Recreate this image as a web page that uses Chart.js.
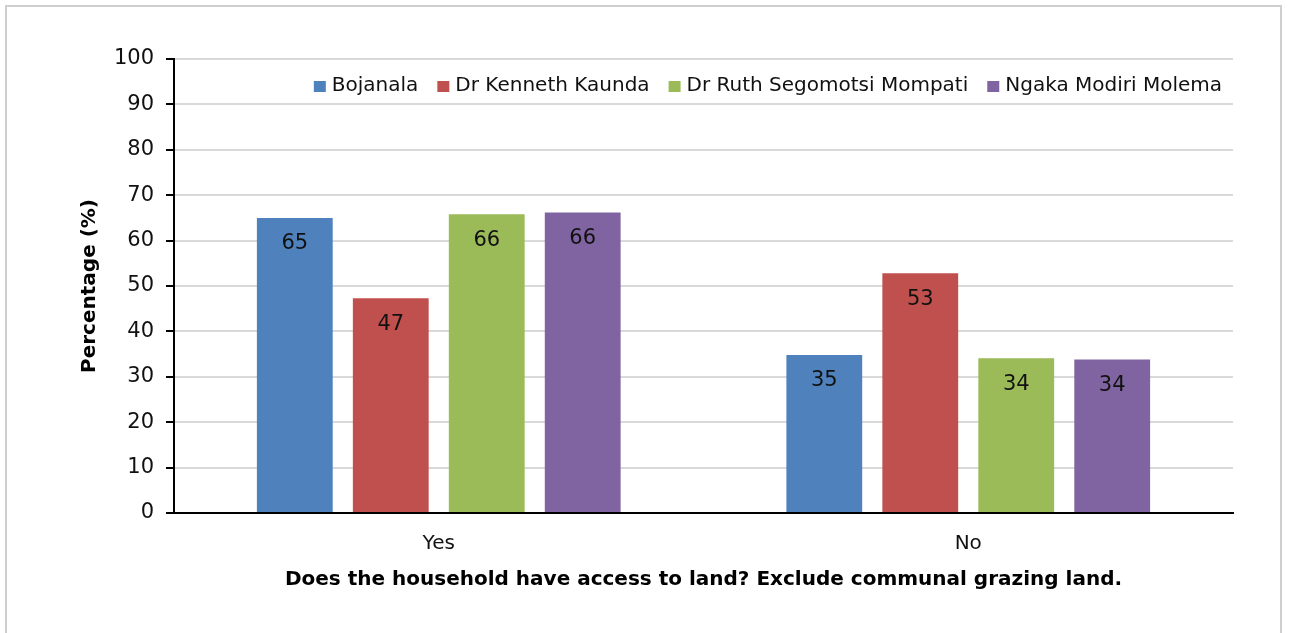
<!DOCTYPE html>
<html>
<head>
<meta charset="utf-8">
<script src="https://cdn.jsdelivr.net/npm/chart.js@4.4.0/dist/chart.umd.min.js"></script>
<style>
  html, body { margin: 0; padding: 0; background: #fff; overflow: hidden; }
  #frame { position: absolute; left: 5px; top: 5px; width: 1273px; height: 700px; border: 2px solid #cfcfcf; }
  #wrap { position: absolute; left: 0; top: 0; width: 1291px; height: 633px; }
</style>
</head>
<body>
<div id="frame"></div>
<div id="wrap"><canvas id="landChart" width="1291" height="633"></canvas></div>
<script>
const categories = ['Yes', 'No'];
const districts = ['Bojanala', 'Dr Kenneth Kaunda', 'Dr Ruth Segomotsi Mompati', 'Ngaka Modiri Molema'];
const bojanala = [65.0, 34.8];
const kenneth = [47.3, 52.8];
const ruth = [65.8, 34.1];
const ngaka = [66.2, 33.8];
const colors = ['#4f81bd', '#c0504d', '#9bbb59', '#8064a2'];
const yTicks = [0, 10, 20, 30, 40, 50, 60, 70, 80, 90, 100];

const FONT = "'DejaVu Sans', 'Liberation Sans', Arial, sans-serif";

// draws rounded value inside each bar near its top
const barLabels = {
  id: 'barLabels',
  afterDatasetsDraw(chart) {
    const ctx = chart.ctx;
    ctx.save();
    ctx.font = '21px ' + FONT;
    ctx.fillStyle = '#111';
    ctx.textAlign = 'center';
    ctx.textBaseline = 'middle';
    chart.data.datasets.forEach((ds, i) => {
      chart.getDatasetMeta(i).data.forEach((bar, j) => {
        ctx.fillText(Math.round(ds.data[j]), bar.x, bar.y + 26);
      });
    });
    ctx.restore();
  }
};

// one-row legend sitting inside the plot, right aligned
const insideLegend = {
  id: 'insideLegend',
  afterDraw(chart) {
    const ctx = chart.ctx;
    const area = chart.chartArea;
    ctx.save();
    ctx.font = '20px ' + FONT;
    ctx.textBaseline = 'middle';
    const box = 12, gap = 6, spacing = 19;
    const items = chart.data.datasets.map(ds => ({ text: ds.label, color: ds.backgroundColor, w: ctx.measureText(ds.label).width }));
    let total = items.reduce((s, it) => s + box + gap + it.w, 0) + spacing * (items.length - 1);
    let x = area.right - 11 - total;
    const y = area.top + 27;
    items.forEach(it => {
      ctx.fillStyle = it.color;
      ctx.fillRect(x, y - 5, box, box - 1);
      ctx.fillStyle = '#111';
      ctx.fillText(it.text, x + box + gap, y);
      x += box + gap + it.w + spacing;
    });
    ctx.restore();
  }
};

const seriesData = [bojanala, kenneth, ruth, ngaka];

new Chart(document.getElementById('landChart').getContext('2d'), {
  type: 'bar',
  data: {
    labels: categories,
    datasets: districts.map((name, i) => ({
      label: name,
      data: seriesData[i],
      backgroundColor: colors[i],
      borderWidth: 0,
      categoryPercentage: 0.725,
      barPercentage: 0.79
    }))
  },
  options: {
    responsive: false,
    animation: false,
    layout: { padding: { top: 59, right: 58, left: 0, bottom: 0 } },
    plugins: {
      tooltip: { enabled: false },
      legend: { display: false }
    },
    scales: {
      x: {
        grid: { display: false },
        border: { color: '#000', width: 2 },
        ticks: { font: { family: FONT, size: 20 }, color: '#111', padding: 11 },
        title: {
          display: true,
          text: 'Does the household have access to land? Exclude communal grazing land.',
          font: { family: FONT, size: 20, weight: 'bold' },
          color: '#000',
          padding: { top: 8, bottom: 41 }
        },
        afterFit(scale) { scale.height = 120; }
      },
      y: {
        min: 0,
        max: 100,
        afterBuildTicks(scale) { scale.ticks = yTicks.map(v => ({ value: v })); },
        grid: { color: '#d9d9d9', lineWidth: 2, tickColor: '#000', tickLength: 8 },
        border: { color: '#000', width: 2 },
        ticks: { font: { family: FONT, size: 21 }, color: '#111', padding: 12 },
        title: {
          display: true,
          text: 'Percentage (%)',
          font: { family: FONT, size: 20, weight: 'bold' },
          color: '#000',
          padding: { top: 78, bottom: 0 }
        },
        afterFit(scale) { scale.width = 174; }
      }
    }
  },
  plugins: [barLabels, insideLegend]
});
</script>
</body>
</html>
